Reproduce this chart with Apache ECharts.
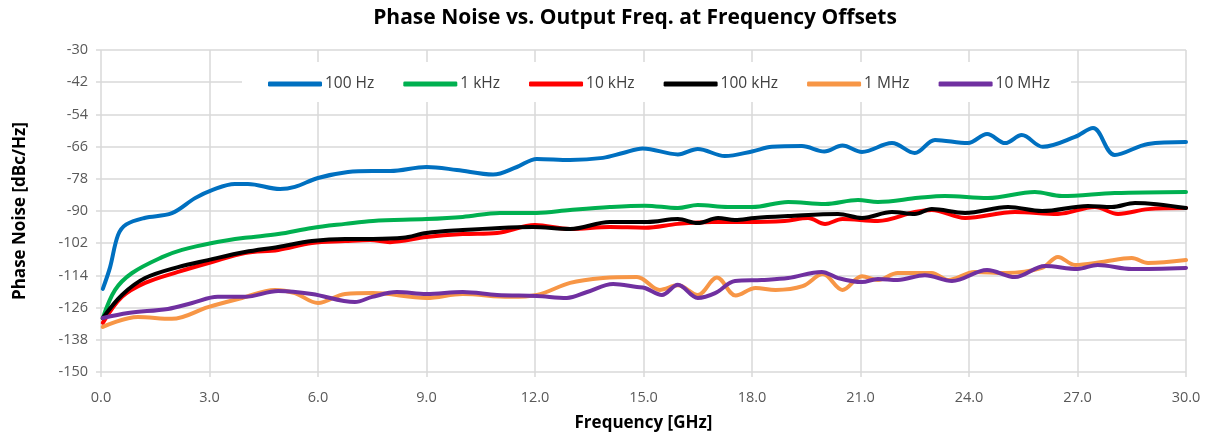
<!DOCTYPE html>
<html>
<head>
<meta charset="utf-8">
<script src="https://cdn.jsdelivr.net/npm/echarts@6/dist/echarts.min.js"></script>
<style>
  html, body { margin: 0; padding: 0; background: #fff; }
  #chart { width: 1210px; height: 440px; }
</style>
</head>
<body>
<div id="chart"></div>
<script>
// Phase noise (dBc/Hz) versus output frequency (GHz), one curve per offset
const seriesNames = ['100 Hz', '1 kHz', '10 kHz', '100 kHz', '1 MHz', '10 MHz'];
const seriesColors = ['#0070C0', '#00B050', '#FF0000', '#000000', '#F79646', '#7030A0'];

const f100Hz = [0.05, 0.25, 0.47, 0.7, 1.2, 1.96, 2.6, 3.07, 3.7, 4.06, 4.95, 5.36, 6.0, 6.83, 7.5, 8.0, 9.0, 9.84, 10.84, 11.5, 12.05, 12.97, 13.88, 14.43, 14.98, 15.95, 16.5, 17.25, 18.0, 18.55, 19.38, 20.0, 20.5, 21.04, 21.87, 22.5, 23.06, 23.97, 24.5, 25.0, 25.46, 26.04, 26.93, 27.43, 28.03, 28.95, 30.0];
const pn100Hz = [-119, -111, -99, -95, -92.6, -90.8, -85.2, -82.2, -79.9, -79.9, -81.8, -81, -77.7, -75.5, -75.1, -75.1, -73.6, -74.7, -76.4, -73.6, -70.6, -71, -70.2, -68.4, -66.7, -68.9, -66.9, -69.5, -67.8, -66.1, -65.8, -67.8, -65.6, -68, -64.7, -68.4, -63.5, -64.7, -61.3, -64.7, -61.7, -66.1, -62.4, -59.1, -69.1, -65, -64.3];

const f1kHz = [0.05, 0.39, 0.86, 1.69, 2.24, 3.07, 3.98, 4.9, 5.83, 6.75, 7.52, 9.0, 10.0, 11.03, 12.05, 12.97, 14.07, 15.04, 15.95, 16.5, 17.34, 18.0, 19.0, 20.02, 20.93, 21.48, 22.6, 23.33, 24.52, 25.82, 26.57, 28.03, 30.0];
const pn1kHz = [-129.9, -119.4, -113.1, -107.2, -104.5, -101.9, -100, -98.6, -96.3, -94.8, -93.7, -93, -92.2, -90.7, -90.7, -89.6, -88.5, -88, -88.9, -87.8, -88.5, -88.5, -86.6, -87.4, -85.9, -86.6, -85.1, -84.4, -85.2, -82.9, -84.4, -83.3, -82.9];

const f10kHz = [0.05, 0.58, 1.22, 2.13, 3.07, 3.98, 4.9, 5.83, 6.75, 7.44, 7.99, 9.0, 10.0, 10.95, 12.0, 12.97, 14.07, 15.04, 15.95, 16.9, 17.8, 18.9, 19.55, 20.02, 20.5, 21.48, 22.5, 22.97, 23.89, 25.27, 26.46, 27.48, 28.12, 28.95, 30.0];
const pn10kHz = [-131.7, -122, -116.8, -112.7, -109, -105.7, -104.5, -101.9, -101.2, -100.8, -101.6, -99.7, -98.6, -98.2, -95.2, -96.7, -96, -96.2, -94.8, -94.1, -94.1, -93.7, -92.6, -94.8, -93, -93.7, -90.4, -89.6, -92.6, -90.4, -91.1, -88.5, -91.1, -89.3, -88.9];

const f100kHz = [0.05, 0.58, 1.22, 2.13, 2.96, 3.98, 4.9, 5.83, 6.75, 7.52, 8.35, 9.0, 10.0, 11.03, 11.94, 12.97, 14.07, 15.1, 15.95, 16.5, 17.06, 17.53, 18.08, 19.0, 20.38, 21.04, 21.87, 22.5, 22.97, 23.89, 25.08, 26.02, 27.29, 27.95, 28.59, 30.0];
const pn100kHz = [-129.9, -121.3, -115, -110.9, -108.3, -105.3, -103.4, -101.2, -100.4, -100.4, -100, -98.2, -97.1, -96.3, -96, -96.7, -94.1, -94.1, -93, -94.5, -92.6, -93.4, -92.6, -91.9, -91.1, -92.6, -90.4, -91.1, -89.3, -90.7, -88.5, -90, -88.1, -88.5, -87, -88.9];

const f1MHz = [0.05, 1.02, 1.96, 2.96, 3.9, 4.81, 5.36, 6.0, 6.75, 7.52, 9.0, 10.0, 11.3, 12.05, 12.97, 13.88, 14.82, 15.45, 15.95, 16.5, 17.03, 17.55, 18.1, 18.65, 19.4, 19.96, 20.5, 21.04, 21.48, 22.03, 22.5, 22.97, 23.42, 24.16, 25.0, 26.02, 26.46, 26.93, 27.67, 28.5, 28.95, 30.0];
const pn1MHz = [-133.2, -129.5, -130.2, -125.8, -122.4, -119.4, -120.6, -124.3, -120.9, -120.6, -122.4, -120.9, -122, -121.3, -116.8, -115, -114.6, -119.4, -117.7, -121.3, -114.8, -121.5, -118.7, -119.4, -118, -113.5, -119.4, -114.3, -115.7, -113.1, -113.1, -113.1, -115.7, -112.7, -113.1, -111.2, -107.1, -110.1, -109, -107.5, -109.4, -108.3];

const f10MHz = [0.05, 0.75, 1.85, 2.52, 3.23, 3.98, 4.9, 5.83, 7.02, 7.5, 8.18, 9.0, 10.0, 10.95, 12.05, 12.88, 13.44, 14.16, 14.82, 15.04, 15.51, 15.95, 16.5, 16.98, 17.53, 18.27, 19.0, 19.93, 20.38, 21.04, 21.48, 22.03, 22.78, 23.53, 24.5, 25.27, 26.1, 27.0, 27.56, 28.5, 30.0];
const pn10MHz = [-129.9, -128, -126.5, -124.3, -122, -122, -119.8, -120.9, -123.9, -122, -120.2, -120.9, -120.2, -121.3, -121.7, -122.4, -120.2, -117.2, -118.3, -118.7, -121.3, -117.5, -122.4, -120.6, -116.1, -115.7, -115, -112.7, -115, -116.5, -115.3, -115.7, -113.9, -116.1, -112, -114.6, -110.5, -111.6, -110.1, -111.6, -111.2];

const freqs = [f100Hz, f1kHz, f10kHz, f100kHz, f1MHz, f10MHz];
const values = [pn100Hz, pn1kHz, pn10kHz, pn100kHz, pn1MHz, pn10MHz];

const chart = echarts.init(document.getElementById('chart'), null, { renderer: 'canvas' });

const gridColor = '#d9d9d9';
const textColor = '#595959';
const fontFamily = '"Open Sans", "Liberation Sans", sans-serif';

chart.setOption({
  animation: false,
  backgroundColor: '#ffffff',
  title: {
    text: 'Phase Noise vs. Output Freq. at Frequency Offsets',
    left: 630,
    textAlign: 'center',
    top: 3,
    textStyle: { fontFamily, fontSize: 21, fontWeight: 'bold', color: '#000' }
  },
  legend: {
    data: seriesNames,
    left: 242,
    top: 62,
    padding: [14, 21, 10, 26],
    backgroundColor: '#ffffff',
    itemWidth: 54,
    itemHeight: 5,
    itemGap: 29,
    icon: 'roundRect',
    textStyle: { fontFamily, fontSize: 15.5, color: '#404040', padding: [0, 0, 0, -2] }
  },
  grid: { left: 101, right: 24, top: 50, bottom: 68 },
  xAxis: {
    type: 'value',
    min: 0, max: 30, interval: 3,
    name: 'Frequency [GHz]',
    nameLocation: 'middle',
    nameGap: 43,
    nameTextStyle: { fontFamily, fontSize: 17, fontWeight: 'bold', color: '#000' },
    axisLine: { show: false },
    axisTick: { show: true, length: 5, lineStyle: { color: gridColor, width: 1.5 } },
    axisLabel: { formatter: v => v.toFixed(1), fontFamily, fontSize: 14.5, color: textColor, margin: 18 },
    splitLine: { show: true, lineStyle: { color: gridColor, width: 1.5 } }
  },
  yAxis: {
    type: 'value',
    min: -150, max: -30, interval: 12,
    name: 'Phase Noise [dBc/Hz]',
    nameLocation: 'middle',
    nameGap: 72,
    nameTextStyle: { fontFamily, fontSize: 17, fontWeight: 'bold', color: '#000' },
    axisLine: { show: false },
    axisTick: { show: true, length: 5, lineStyle: { color: gridColor, width: 1.5 } },
    axisLabel: { fontFamily, fontSize: 14.5, color: textColor, margin: 13 },
    splitLine: { show: true, lineStyle: { color: gridColor, width: 1.5 } }
  },
  series: seriesNames.map((name, i) => ({
    name,
    type: 'line',
    smooth: 0.35,
    showSymbol: false,
    symbol: 'none',
    color: seriesColors[i],
    lineStyle: { width: 4, color: seriesColors[i], cap: 'round', join: 'round' },
    data: freqs[i].map((f, k) => [f, values[i][k]])
  }))
});
</script>
</body>
</html>
